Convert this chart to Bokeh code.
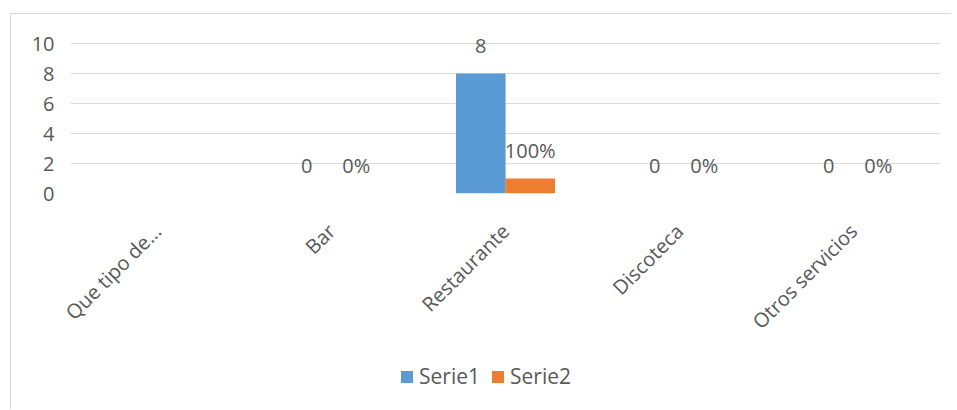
import math
from bokeh.plotting import figure
from bokeh.layouts import column
from bokeh.models import ColumnDataSource, FactorRange, Range1d, Legend, LegendItem, FixedTicker
from bokeh.transform import dodge
from bokeh.core.properties import value
from bokeh.embed import file_html
from bokeh.resources import INLINE

categories = ["Que tipo de...", "Bar", "Restaurante", "Discoteca", "Otros servicios"]
serie1 = [float("nan"), 0, 8, 0, 0]
serie2 = [float("nan"), 0, 1, 0, 0]
y_ticks = [0, 2, 4, 6, 8, 10]
series_names = ["Serie1", "Serie2"]
colors = ["#5B9BD5", "#ED7D31"]

lbl1 = ["" if math.isnan(v) else f"{v:g}" for v in serie1]
lbl2 = ["" if math.isnan(v) else f"{v * 100:.0f}%" for v in serie2]

src = ColumnDataSource(dict(cat=categories, s1=serie1, s2=serie2, l1=lbl1, l2=lbl2))

FONT = "Open Sans"
TXT = "#595959"
GRID = "#d9d9d9"

x_range = FactorRange(*categories, range_padding=0)

p = figure(
    x_range=x_range,
    y_range=Range1d(0, 10.87),
    width=940, height=340,
    output_backend="svg", toolbar_location=None,
    min_border_left=59, min_border_right=11, min_border_top=16, min_border_bottom=161,
)
p.outline_line_color = None
p.background_fill_color = "white"
p.border_fill_color = "white"

bw = 0.285
off = 0.142
p.vbar(x=dodge("cat", -off, range=x_range), top="s1", width=bw, source=src,
       fill_color=colors[0], line_color=None)
p.vbar(x=dodge("cat", off, range=x_range), top="s2", width=bw, source=src,
       fill_color=colors[1], line_color=None)

p.text(x=dodge("cat", -off, range=x_range), y="s1", text="l1", source=src,
       text_font=value(FONT), text_font_size="20px", text_color=TXT,
       text_align="center", text_baseline="middle", y_offset=-28)
p.text(x=dodge("cat", off, range=x_range), y="s2", text="l2", source=src,
       text_font=value(FONT), text_font_size="20px", text_color=TXT,
       text_align="center", text_baseline="middle", y_offset=-28)

p.xgrid.grid_line_color = None
p.ygrid.grid_line_color = GRID
p.ygrid.grid_line_width = 1
p.yaxis.ticker = FixedTicker(ticks=y_ticks)

for ax in (p.xaxis, p.yaxis):
    ax.axis_line_color = None
    ax.major_tick_line_color = None
    ax.minor_tick_line_color = None
    ax.major_label_text_font = FONT
    ax.major_label_text_font_size = "20px"
    ax.major_label_text_color = TXT

p.yaxis.major_label_standoff = 10
p.xaxis.major_label_orientation = math.pi / 4
p.xaxis.major_label_standoff = 28

# legend strip (same series, drawn below the chart)
pl = figure(
    x_range=x_range, y_range=Range1d(100, 101),
    width=940, height=55,
    output_backend="svg", toolbar_location=None,
    x_axis_location=None, y_axis_location=None,
    min_border=0,
)
pl.outline_line_color = None
pl.grid.visible = False
l1 = pl.vbar(x=dodge("cat", -off, range=x_range), top="s1", width=bw, source=src,
             fill_color=colors[0], line_color=None)
l2 = pl.vbar(x=dodge("cat", off, range=x_range), top="s2", width=bw, source=src,
             fill_color=colors[1], line_color=None)
legend = Legend(
    items=[LegendItem(label=series_names[0], renderers=[l1]),
           LegendItem(label=series_names[1], renderers=[l2])],
    orientation="horizontal", location=(329, 19),
    glyph_width=15, glyph_height=15, label_standoff=5, spacing=10,
    padding=0, margin=0, border_line_color=None, background_fill_alpha=0,
    label_text_font=FONT, label_text_font_size="21px", label_text_color=TXT,
)
pl.add_layout(legend, "center")

layout = column(p, pl, spacing=0)
layout.margin = (13, 0, 0, 10)
layout.styles = {"border-left": "1px solid #d9d9d9", "border-top": "1px solid #d9d9d9"}

open("out.html", "w").write(file_html(layout, INLINE))
